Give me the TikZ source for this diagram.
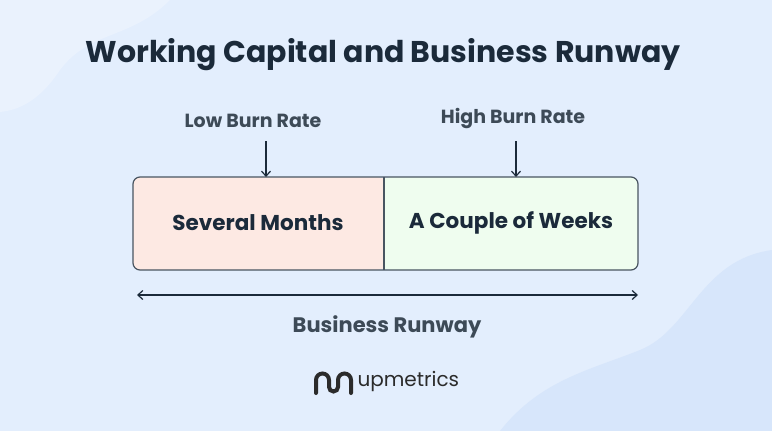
\documentclass[tikz,border=0pt]{standalone}
\usepackage{fontspec}
\setmainfont{Poppins}
\usetikzlibrary{positioning,arrows.meta}
\definecolor{bgblue}{HTML}{E3EEFD}
\definecolor{blobA}{HTML}{EAF2FD}
\definecolor{blobB}{HTML}{D7E6FB}
\definecolor{ink}{HTML}{1B2A3A}
\definecolor{leftfill}{HTML}{FDE9E3}
\definecolor{rightfill}{HTML}{EFFDEF}
\definecolor{logoc}{HTML}{2B2B2B}
\tikzset{
  label/.style={font=\fontsize{19}{22}\selectfont\bfseries, text=ink!85, inner sep=0pt},
  boxtext/.style={font=\fontsize{21.5}{26}\selectfont\bfseries, text=ink},
  part/.style={draw=ink!80, line width=1.2pt},
  tip/.style={-{Straight Barb[length=5pt,width=9pt]}, ink, line width=1.2pt}
}
\begin{document}
\begin{tikzpicture}[x=1pt,y=-1pt]
\fill[bgblue] (0,0) rectangle (772,431);
\useasboundingbox (0,0) rectangle (772,431);
% background blobs
\fill[blobA] (0,0) -- (170,0) .. controls (130,40) and (90,30) .. (60,70) .. controls (40,100) and (20,110) .. (0,112) -- cycle;
\fill[blobB] (772,250) .. controls (700,260) and (690,330) .. (640,350) .. controls (590,370) and (540,380) .. (500,431) -- (772,431) -- cycle;
% title
\node[font=\fontsize{30}{36}\selectfont\bfseries, text=ink] (title) at (383,55) {Working Capital and Business Runway};
% box
\fill[leftfill, rounded corners=7pt] (384,177) -- (133,177) -- (133,270) -- (384,270) -- cycle;
\fill[rightfill, rounded corners=7pt] (384,177) -- (638,177) -- (638,270) -- (384,270) -- cycle;
\fill[leftfill] (370,178) rectangle (384,269);
\fill[rightfill] (384,178) rectangle (398,269);
\draw[part, rounded corners=7pt] (133,177) rectangle (638,270);
\draw[part] (384,177) -- (384,270);
\node[boxtext] (slow) at (258,223) {Several Months};
\node[boxtext] (fast) at (511,223) {A Couple of Weeks};
\coordinate (ltop) at (266,177);
\coordinate (rtop) at (516,177);
% burn rates
\node[label] (low) at (253,121) {Low Burn Rate};
\node[label] (high) at (513,119) {High Burn Rate};
\draw[tip] (266,141) -- (ltop);
\draw[tip] (516,141) -- (rtop);
% runway
\coordinate (rl) at (137,295);
\coordinate (rr) at (638,295);
\draw[tip, {Straight Barb[length=5pt,width=9pt]}-{Straight Barb[length=5pt,width=9pt]}] (rl) -- (rr);
\node[label, font=\fontsize{21}{25}\selectfont\bfseries] (runway) at (387,327) {Business Runway};
% logo
\draw[logoc, line width=4pt, line cap=round] (316,393) -- (316,380) arc[start angle=180, end angle=360, radius=6.5] -- (329,387) arc[start angle=180, end angle=0, radius=4.5] -- (338,380) arc[start angle=180, end angle=360, radius=6.5] -- (351,393);
\node[font=\fontsize{20}{24}\selectfont, text=logoc, anchor=west] (brand) at (354,381) {upmetrics};
\end{tikzpicture}
\end{document}
